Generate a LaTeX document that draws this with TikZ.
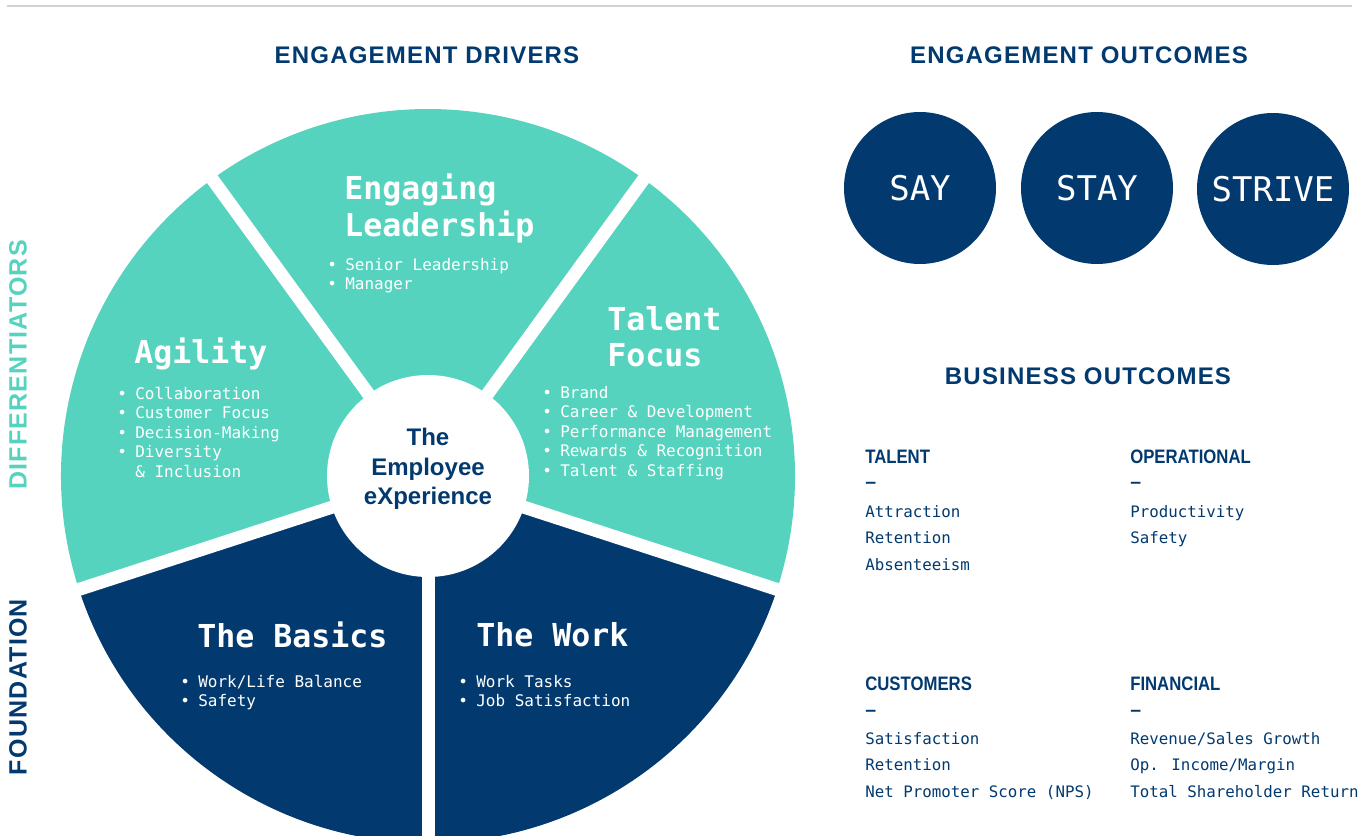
\documentclass[tikz,border=0pt]{standalone}
\usepackage{fontspec}
\usepackage{xcolor}
\setmainfont{Liberation Sans}
\newfontfamily\monof{DejaVu Sans Mono}
\newfontfamily\headf[LetterSpace=5]{Liberation Sans}
\newfontfamily\condf[FakeStretch=0.86]{Liberation Sans}
\definecolor{wheelteal}{RGB}{86,211,190}
\definecolor{wheelnavy}{RGB}{2,58,112}
\definecolor{rulegray}{RGB}{210,210,210}
\newcommand{\bul}{\makebox[13.5pt][l]{\textbullet}}

\begin{document}
\begin{tikzpicture}[x=0.75pt,y=0.75pt,yscale=-1,xscale=1,
	segtitle/.style={anchor=north west, inner sep=0pt, text=white, align=left, font=\monof\bfseries\fontsize{23.7}{27.5}\selectfont},
	segitems/.style={anchor=north west, inner sep=0pt, text=white, align=left, font=\monof\fontsize{12}{14.6}\selectfont},
	heading/.style={inner sep=0pt, text=wheelnavy, font=\headf\bfseries\fontsize{18}{20}\selectfont},
	sidelabel/.style={inner sep=0pt, rotate=90, font=\headf\bfseries\fontsize{18.75}{20}\selectfont},
	outcome/.style={circle, fill=wheelnavy, minimum size=114pt, inner sep=0pt, text=white, font=\monof\fontsize{25.5}{30}\selectfont},
	bizhead/.style={anchor=north west, inner sep=0pt, text=wheelnavy, font=\condf\bfseries\fontsize{14.6}{16}\selectfont},
	bizdash/.style={anchor=west, inner sep=0pt, text=wheelnavy, font=\bfseries\fontsize{14.6}{16}\selectfont},
	bizitems/.style={anchor=north west, inner sep=0pt, text=wheelnavy, align=left, font=\monof\fontsize{11.85}{19.9}\selectfont}]

				%set diagram size to 1372 x 836
				\useasboundingbox[fill=white] (0,0) rectangle (1372,836);

				%Straight Lines [top rule]
				\draw [rulegray, line width=1.5pt]  (7,6) -- (1352,6) ;

				\coordinate (c) at (428,476);
				%Shape: Sector [Engaging Leadership]
				\fill [wheelteal] (c) -- +(-54:367) arc[start angle=-54, end angle=-126, radius=367] -- cycle ;
				%Shape: Sector [Agility]
				\fill [wheelteal] (c) -- +(-126:367) arc[start angle=-126, end angle=-198, radius=367] -- cycle ;
				%Shape: Sector [The Basics]
				\fill [wheelnavy] (c) -- +(-198:367) arc[start angle=-198, end angle=-270, radius=367] -- cycle ;
				%Shape: Sector [The Work]
				\fill [wheelnavy] (c) -- +(-270:367) arc[start angle=-270, end angle=-342, radius=367] -- cycle ;
				%Shape: Sector [Talent Focus]
				\fill [wheelteal] (c) -- +(18:367) arc[start angle=18, end angle=-54, radius=367] -- cycle ;
				%Straight Lines [gaps]
				\foreach \a in {-54,-126,-198,-270,-342}
					\draw [white, line width=9.75pt]  (c) -- +(\a:385) ;
				%Shape: Circle [hub]
				\node [circle, fill=white, minimum size=151.5pt, inner sep=0pt] (hub) at (c) {};

				% Text Node
				\node [align=center, inner sep=0pt, text=wheelnavy, font=\bfseries\fontsize{18}{22}\selectfont] (exp) at (428,469) {The\\Employee\\eXperience};

				% Text Node
				\node [segtitle] (lead) at (344,174) {Engaging\\Leadership};
				% Text Node
				\node [segitems] (leaditems) at (327,258) {\bul Senior Leadership\\\bul Manager};
				% Text Node
				\node [segtitle] (agil) at (134,338) {Agility};
				% Text Node
				\node [segitems] (agilitems) at (117,387) {\bul Collaboration\\\bul Customer Focus\\\bul Decision-Making\\\bul Diversity\\\hspace*{13.5pt}\& Inclusion};
				% Text Node
				\node [segtitle] (talent) at (607,306) {Talent\\Focus};
				% Text Node
				\node [segitems] (talentitems) at (542,386) {\bul Brand\\\bul Career \& Development\\\bul Performance Management\\\bul Rewards \& Recognition\\\bul Talent \& Staffing};
				% Text Node
				\node [segtitle] (basics) at (197,622) {The Basics};
				% Text Node
				\node [segitems] (basicsitems) at (180,675) {\bul Work/Life Balance\\\bul Safety};
				% Text Node
				\node [segtitle] (work) at (476,622) {The Work};
				% Text Node
				\node [segitems] (workitems) at (458,675) {\bul Work Tasks\\\bul Job Satisfaction};

				% Text Node
				\node [heading] (drivers) at (427,55) {ENGAGEMENT DRIVERS};
				% Text Node
				\node [heading] (engout) at (1079,55) {ENGAGEMENT OUTCOMES};
				% Text Node
				\node [heading] (busout) at (1088,376) {BUSINESS OUTCOMES};
				% Text Node
				\node [sidelabel, text=wheelteal] (diff) at (18,365) {DIFFERENTIATORS};
				% Text Node
				\node [sidelabel, text=wheelnavy] (found) at (18,687) {FOUNDATION};

				%Shape: Circle [outcomes]
				\node [outcome] (say) at (920,188) {SAY};
				\node [outcome] (stay) at (1097,188) {STAY};
				\node [outcome] (strive) at (1273,189) {STRIVE};

				% Text Node
				\node [bizhead] (talenth) at (865,450) {TALENT};
				\node [bizdash] (talentd) at (865,485) {–};
				\node [bizitems] (talenti) at (865,505) {Attraction\\Retention\\Absenteeism};
				% Text Node
				\node [bizhead] (operh) at (1130,450) {OPERATIONAL};
				\node [bizdash] (operd) at (1130,485) {–};
				\node [bizitems] (operi) at (1130,505) {Productivity\\Safety};
				% Text Node
				\node [bizhead] (custh) at (865,677) {CUSTOMERS};
				\node [bizdash] (custd) at (865,713) {–};
				\node [bizitems] (custi) at (865,732) {Satisfaction\\Retention\\Net Promoter Score (NPS)};
				% Text Node
				\node [bizhead] (finh) at (1130,677) {FINANCIAL};
				\node [bizdash] (find) at (1130,713) {–};
				\node [bizitems] (fini) at (1130,732) {Revenue/Sales Growth\\Op. Income/Margin\\Total Shareholder Return};

\end{tikzpicture}
\end{document}
